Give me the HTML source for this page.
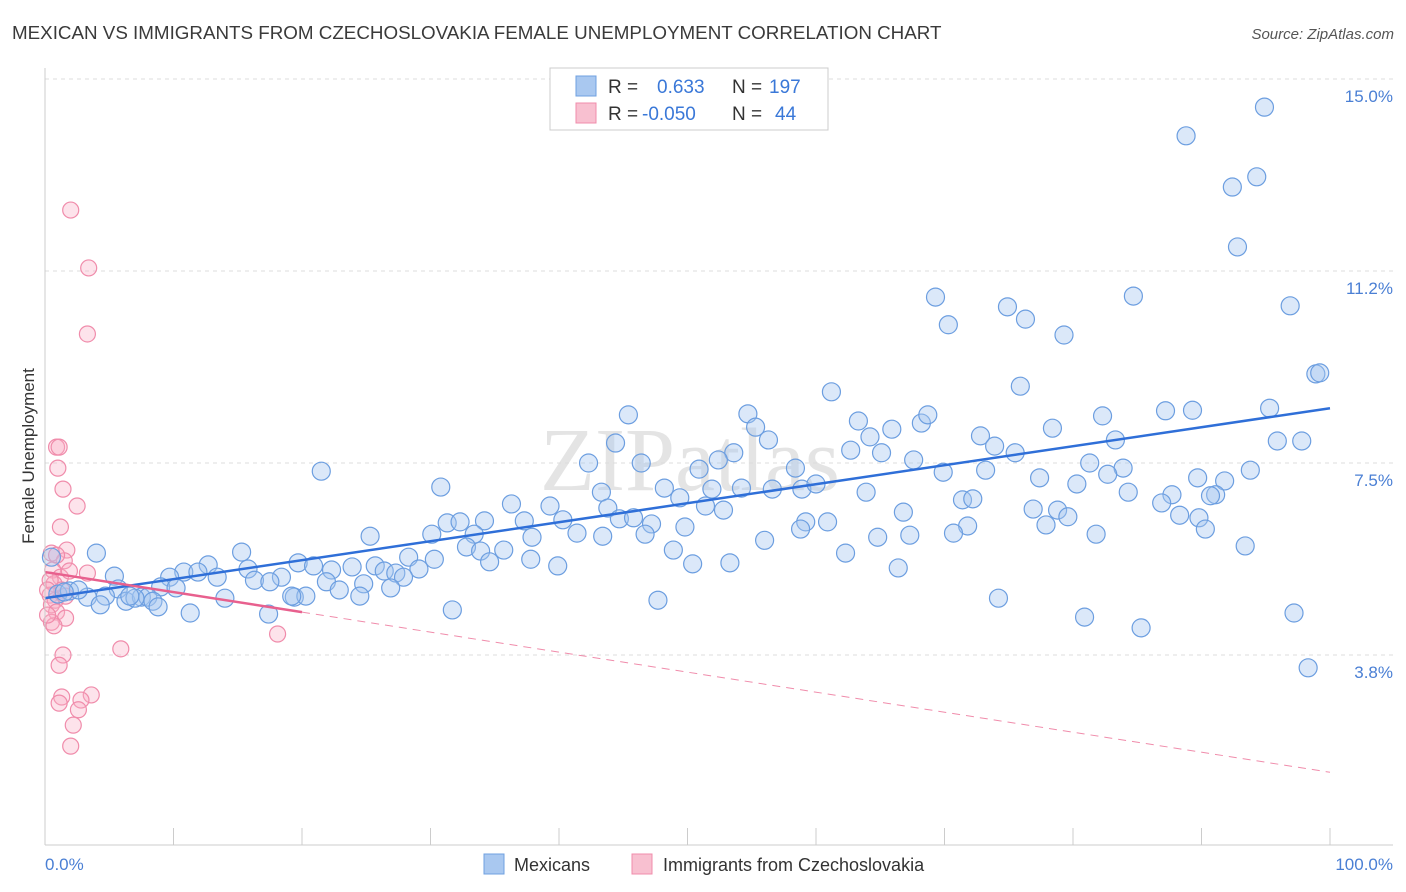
<!DOCTYPE html>
<html><head><meta charset="utf-8"><style>
body{margin:0;background:#fff;font-family:"Liberation Sans",sans-serif;}
svg{display:block}
</style></head><body>
<svg id="chart" width="1406" height="892">
<text x="12" y="39" font-size="18.8" fill="#3a3a3a">MEXICAN VS IMMIGRANTS FROM CZECHOSLOVAKIA FEMALE UNEMPLOYMENT CORRELATION CHART</text>
<text x="1394" y="39" font-size="15" fill="#555" font-style="italic" text-anchor="end">Source: ZipAtlas.com</text>
<text x="34" y="456" font-size="17" fill="#333" text-anchor="middle" transform="rotate(-90 34 456)">Female Unemployment</text>
<text x="690" y="490" font-size="90" fill="#e4e4e4" font-family="Liberation Serif" text-anchor="middle">ZIPatlas</text>
<g id="grid"></g><g id="pts"></g><g id="lines"></g>
<line x1="45" y1="68" x2="45" y2="845" stroke="#ccc"/>
<line x1="45" y1="845" x2="1393" y2="845" stroke="#ccc"/>
<text x="45" y="870" font-size="17" fill="#4a7fd4">0.0%</text>
<text x="1393" y="870" font-size="17" fill="#4a7fd4" text-anchor="end">100.0%</text>
<g>
<rect x="550" y="68" width="278" height="62" fill="#fff" stroke="#ccc"/>
<rect x="576" y="76" width="20" height="20" fill="#a9c8f0" stroke="#6fa0e0"/>
<rect x="576" y="103" width="20" height="20" fill="#f8c0d0" stroke="#f08cab"/>
<text x="608" y="93" font-size="19" fill="#333">R = <tspan fill="#3a78d8" x="657">0.633</tspan><tspan x="732" fill="#333">N = </tspan><tspan fill="#3a78d8" x="769">197</tspan></text>
<text x="608" y="120" font-size="19" fill="#333">R = <tspan fill="#3a78d8" x="642">-0.050</tspan><tspan x="732" fill="#333">N = </tspan><tspan fill="#3a78d8" x="775">44</tspan></text>
</g>
<g>
<rect x="484" y="854" width="20" height="20" fill="#a9c8f0" stroke="#6fa0e0"/>
<text x="514" y="871" font-size="18" fill="#333">Mexicans</text>
<rect x="632" y="854" width="20" height="20" fill="#f8c0d0" stroke="#f08cab"/>
<text x="663" y="871" font-size="18" fill="#333">Immigrants from Czechoslovakia</text>
</g>
</svg>
<script>
const yTicks=[3.75,7.5,11.25,15.0];
const yTickLabels=["3.8%","7.5%","11.2%","15.0%"];
const xTicks=[0,10,20,30,40,50,60,70,80,90,100];
const mexX=[94.9,88.8,94.3,92.4,92.8,69.3,70.3,74.9,76.3,79.3,84.7,96.9,98.9,99.2,75.9,61.2,45.4,54.7,95.3,89.3,87.2,82.3,63.3,68.2,68.7,65.9,64.2,55.3,72.8,78.4,44.4,56.3,62.7,73.9,75.5,83.3,95.9,97.8,53.6,65.1,52.4,21.5,42.3,46.4,67.6,81.3,83.9,93.8,50.9,58.4,69.9,73.2,82.7,77.4,89.7,91.8,80.3,30.8,48.2,54.2,51.9,56.6,58.9,60.0,63.9,43.3,49.4,84.3,91.1,87.7,51.4,71.4,72.2,86.9,36.3,39.3,43.8,52.8,66.8,78.8,76.9,79.6,88.3,89.8,90.7,34.2,37.3,40.3,44.7,45.8,47.2,31.3,32.3,49.8,60.9,59.2,58.8,77.9,90.3,71.8,33.4,30.1,25.3,37.9,41.4,43.4,46.7,56.0,64.8,67.3,70.7,81.8,15.3,32.8,33.9,35.7,48.9,62.3,93.4,28.3,30.3,34.6,37.8,39.9,19.7,12.7,25.7,23.9,26.4,29.1,22.3,20.9,10.8,11.9,13.4,15.8,27.3,18.4,21.9,24.8,5.4,9.7,16.3,17.5,27.9,50.4,53.3,66.4,26.9,22.9,24.5,14.0,5.7,9.0,10.2,19.4,20.3,4.7,6.3,7.5,8.0,8.4,7.0,3.3,4.3,8.8,11.3,17.4,31.7,47.7,74.2,80.9,85.3,97.2,98.3,4.0,0.5,1.0,1.9,2.6,1.5,6.6,19.2];
const mexY=[14.45,13.89,13.09,12.89,11.72,10.74,10.2,10.55,10.31,10.0,10.76,10.57,9.24,9.26,9.0,8.89,8.44,8.46,8.57,8.53,8.52,8.42,8.32,8.28,8.44,8.16,8.01,8.2,8.03,8.18,7.89,7.95,7.75,7.83,7.7,7.95,7.93,7.93,7.7,7.7,7.56,7.34,7.5,7.5,7.56,7.5,7.4,7.36,7.38,7.4,7.32,7.36,7.28,7.21,7.21,7.15,7.09,7.03,7.01,7.01,6.99,6.99,6.99,7.09,6.93,6.93,6.82,6.93,6.88,6.88,6.66,6.78,6.8,6.72,6.7,6.66,6.62,6.58,6.54,6.58,6.6,6.45,6.48,6.43,6.86,6.37,6.37,6.39,6.41,6.43,6.31,6.33,6.35,6.25,6.35,6.35,6.21,6.29,6.21,6.27,6.11,6.11,6.07,6.05,6.13,6.07,6.11,5.99,6.05,6.09,6.13,6.11,5.76,5.86,5.78,5.8,5.8,5.74,5.88,5.66,5.62,5.57,5.62,5.49,5.55,5.51,5.49,5.47,5.39,5.43,5.41,5.49,5.37,5.37,5.27,5.43,5.35,5.27,5.18,5.14,5.29,5.27,5.21,5.18,5.27,5.53,5.55,5.45,5.06,5.02,4.9,4.86,5.04,5.08,5.06,4.88,4.9,4.9,4.8,4.88,4.88,4.8,4.86,4.88,4.73,4.69,4.57,4.55,4.63,4.82,4.86,4.49,4.28,4.57,3.5,5.74,5.66,4.94,5.0,5.02,4.98,4.9,4.9];
const czX=[2.0,3.4,3.3,0.9,1.1,1.0,1.4,2.5,1.2,1.7,0.5,1.5,0.6,3.3,1.2,1.9,0.7,1.3,0.4,0.8,0.5,0.9,1.6,0.5,0.7,18.1,5.9,1.4,1.1,3.6,1.3,1.1,2.8,2.6,2.2,2.0,0.4,0.2,0.9,1.6,0.2];
const czY=[12.44,11.31,10.02,7.81,7.81,7.4,6.99,6.66,6.25,5.8,5.74,5.59,5.41,5.35,5.27,5.39,5.14,5.02,4.92,4.82,4.73,4.59,4.47,4.39,4.32,4.16,3.87,3.75,3.55,2.97,2.93,2.81,2.87,2.68,2.38,1.97,5.21,5.02,5.7,4.9,4.53];
const mexTrend=[4.86,8.57];
const czTrend=[5.37,1.46];
const czSolidEnd=20;
const NS="http://www.w3.org/2000/svg";
const X=v=>45+v*12.85, Y=v=>655-(v-3.75)*51.2;
function mk(tag,at,parent){const e=document.createElementNS(NS,tag);for(const k in at)e.setAttribute(k,at[k]);parent.appendChild(e);return e;}
const grid=document.getElementById('grid'),pts=document.getElementById('pts'),lines=document.getElementById('lines');
yTicks.forEach((t,i)=>{
 const l=mk('line',{x1:45,x2:1393,y1:Y(t),y2:Y(t),stroke:'#ddd','stroke-dasharray':'4,4'},grid);
 
 
 const tx=mk('text',{x:1393,y:Y(t)+23,'font-size':17,fill:'#4a7fd4','text-anchor':'end'},grid);
 tx.textContent=yTickLabels[i];
 
 
});
xTicks.forEach(t=>{
 const l=mk('line',{x1:X(t),x2:X(t),y1:828,y2:845,stroke:'#ccc'},grid);
 
 
});
czX.forEach((x,i)=>{
 const c=mk('circle',{cx:X(x),cy:Y(czY[i]),r:8,fill:'rgba(248,175,198,0.35)',stroke:'#f08cab','stroke-width':1.2},pts);
 
 
});
mexX.forEach((x,i)=>{
 const c=mk('circle',{cx:X(x),cy:Y(mexY[i]),r:9,fill:'rgba(165,198,240,0.4)',stroke:'#6c9ee0','stroke-width':1.2},pts);
 
 
});
const m=mk('line',{x1:X(0),y1:Y(mexTrend[0]),x2:X(100),y2:Y(mexTrend[1]),stroke:'#2f6fd8','stroke-width':2.5},lines);


const cy=v=>czTrend[0]+(czTrend[1]-czTrend[0])*v/100;
const c1=mk('line',{x1:X(0),y1:Y(cy(0)),x2:X(czSolidEnd),y2:Y(cy(czSolidEnd)),stroke:'#e8608e','stroke-width':2.5},lines);


const c2=mk('line',{x1:X(czSolidEnd),y1:Y(cy(czSolidEnd)),x2:X(100),y2:Y(cy(100)),stroke:'#f08cab','stroke-width':1,'stroke-dasharray':'8,6'},lines);


</script>
</body></html>
